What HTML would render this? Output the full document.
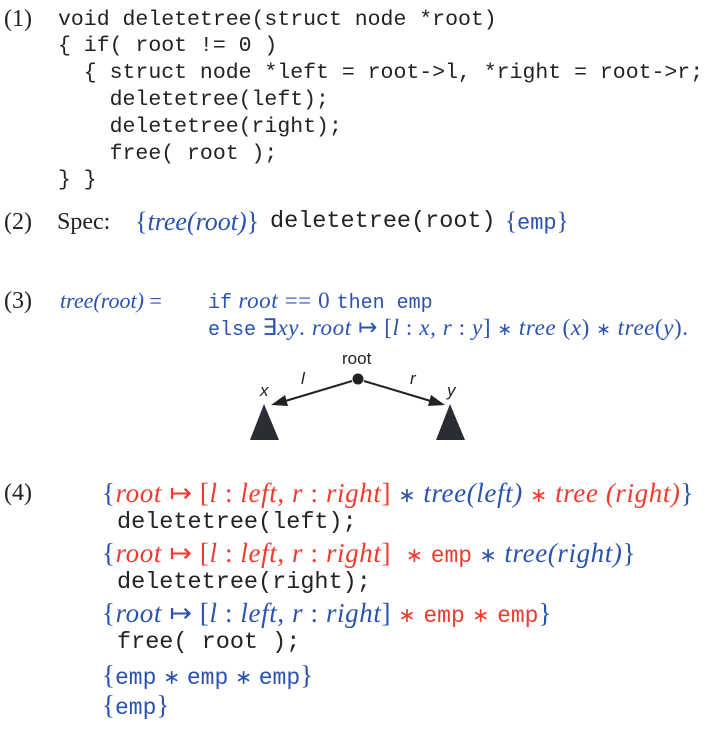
<!DOCTYPE html>
<html><head><meta charset="utf-8"><style>
body{margin:0;width:720px;height:730px;background:#fff;position:relative;overflow:hidden;color:#222}
.a{position:absolute;white-space:pre;line-height:28px;height:28px}
.s{font-family:"Liberation Serif",serif;font-size:24px}
.m{font-family:"Liberation Mono",monospace;font-size:21.5px}
.m2{font-family:"Liberation Mono",monospace;font-size:23.5px}
.b{color:#2a52b0}.r{color:#f03a2e}
i{font-family:"Liberation Serif",serif}
.c{font-family:"Liberation Mono",monospace;letter-spacing:0}
.st{font-size:0.75em}
.mx{letter-spacing:0.6px}
</style></head><body>
<div class="a s" style="left:4px;top:5px">(1)</div>
<div class="a m" style="left:58px;top:6px">void deletetree(struct node *root)</div>
<div class="a m" style="left:58px;top:32px">{ if( root != 0 )</div>
<div class="a m" style="left:58px;top:59px">  { struct node *left = root-&gt;l, *right = root-&gt;r;</div>
<div class="a m" style="left:58px;top:86px">    deletetree(left);</div>
<div class="a m" style="left:58px;top:113px">    deletetree(right);</div>
<div class="a m" style="left:58px;top:140px">    free( root );</div>
<div class="a m" style="left:58px;top:166px">} }</div>

<div class="a s" style="left:4px;top:208px">(2)</div>
<div class="a s" style="left:57px;top:208px">Spec:</div>
<div class="a s b" style="left:135px;top:208px;font-size:26px">{<i>tree(root)</i>}</div>
<div class="a m2" style="left:270px;top:208px">deletetree(root)</div>
<div class="a s b" style="left:505px;top:208px;font-size:25px">{<span class="c" style="font-size:22px">emp</span>}</div>

<div class="a s" style="left:4px;top:287px">(3)</div>
<div class="a s b" style="left:60px;top:287px;font-size:22px"><i>tree(root)</i> =</div>
<div class="a s b mx" style="left:208px;top:287px;font-size:23px"><span class="c" style="font-size:20px">if</span> <i>root</i> == 0 <span class="c" style="font-size:20px">then emp</span></div>
<div class="a s b mx" style="left:208px;top:314px;font-size:23px"><span class="c" style="font-size:20px">else</span> ∃<i>xy</i>. <i>root</i> ↦ [<i>l</i> : <i>x</i>, <i>r</i> : <i>y</i>] <span class="st">∗</span> <i>tree</i> (<i>x</i>) <span class="st">∗</span> <i>tree</i>(<i>y</i>).</div>

<svg style="position:absolute;left:0;top:0" width="720" height="730">
<g font-family="Liberation Sans,sans-serif" font-size="17" fill="#222">
<text x="342" y="364">root</text>
<text x="301" y="384" font-style="italic">l</text>
<text x="410" y="384" font-style="italic">r</text>
<text x="260" y="396" font-style="italic">x</text>
<text x="447" y="396" font-style="italic">y</text>
</g>
<circle cx="358" cy="379" r="5.5" fill="#222"/>
<line x1="352" y1="381" x2="282" y2="402" stroke="#222" stroke-width="2"/>
<polygon points="271,405 285,395 288,406" fill="#222"/>
<line x1="364" y1="381" x2="434" y2="402" stroke="#222" stroke-width="2"/>
<polygon points="445,405 431,395 428,406" fill="#222"/>
<polygon points="264,404 250,440 279,440" fill="#2a2d33"/>
<polygon points="450,404 436,440 465,440" fill="#2a2d33"/>
</svg>

<div class="a s" style="left:4px;top:479px">(4)</div>
<div class="a s mx" style="left:102px;top:479px;font-size:27px"><span class="b">{</span><span class="r"><i>root</i> ↦ [<i>l</i> : <i>left</i>, <i>r</i> : <i>right</i>]</span> <span class="b st">∗</span> <span class="b"><i>tree(left)</i></span> <span class="r"><span class="st">∗</span> <i>tree (right)</i></span><span class="b">}</span></div>
<div class="a m2" style="left:117px;top:509px">deletetree(left);</div>
<div class="a s mx" style="left:102px;top:539px;font-size:27px"><span class="b">{</span><span class="r"><i>root</i> ↦ [<i>l</i> : <i>left</i>, <i>r</i> : <i>right</i>]  <span class="st">∗</span> <span class="c" style="font-size:23px">emp</span></span> <span class="b"><span class="st">∗</span> <i>tree(right)</i>}</span></div>
<div class="a m2" style="left:117px;top:569px">deletetree(right);</div>
<div class="a s mx" style="left:102px;top:599px;font-size:27px"><span class="b">{<i>root</i> ↦ [<i>l</i> : <i>left</i>, <i>r</i> : <i>right</i>]</span> <span class="r"><span class="st">∗</span> <span class="c" style="font-size:23px">emp</span> <span class="st">∗</span> <span class="c" style="font-size:23px">emp</span></span><span class="b">}</span></div>
<div class="a m2" style="left:117px;top:629px">free( root );</div>
<div class="a s b" style="left:102px;top:661px;font-size:27px">{<span class="c" style="font-size:23px">emp</span> <span class="st">∗</span> <span class="c" style="font-size:23px">emp</span> <span class="st">∗</span> <span class="c" style="font-size:23px">emp</span>}</div>
<div class="a s b" style="left:102px;top:691px;font-size:27px">{<span class="c" style="font-size:23px">emp</span>}</div>
</body></html>
